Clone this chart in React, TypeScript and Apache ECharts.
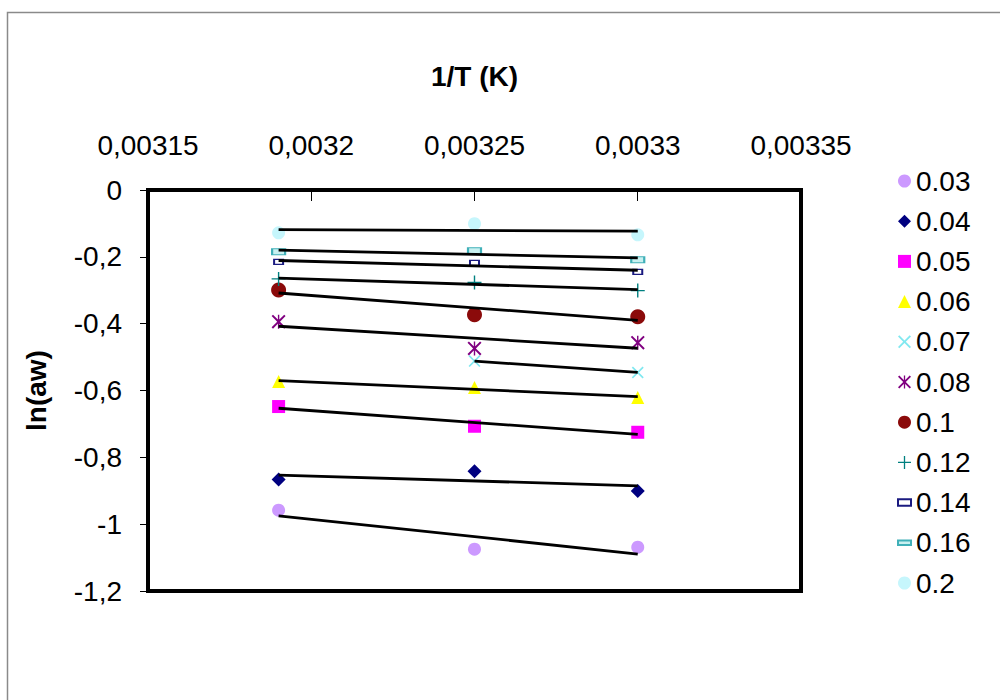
import React, { useEffect, useRef } from "react";
import * as echarts from "echarts";

// 1/T values (x) and tick settings
const xValues = [0.00319, 0.00325, 0.0033];
const xMin = 0.00315;
const xMax = 0.00335;
const xStep = 0.00005;
const yMin = -1.2;
const yMax = 0;
const yStep = 0.2;

const seriesNames = ["0.03", "0.04", "0.05", "0.06", "0.07", "0.08", "0.1", "0.12", "0.14", "0.16", "0.2"];

// ln(aw) values per series, ordered as xValues
const s003 = [-0.958, -1.075, -1.069];
const s004 = [-0.866, -0.842, -0.901];
const s005 = [-0.648, -0.707, -0.725];
const s006 = [-0.573, -0.591, -0.621];
const s007 = [null, -0.512, -0.546];
const s008 = [-0.394, -0.474, -0.457];
const s010 = [-0.299, -0.373, -0.379];
const s012 = [-0.266, -0.277, -0.301];
const s014 = [-0.215, -0.218, -0.245];
const s016 = [-0.185, -0.182, -0.209];
const s020 = [-0.128, -0.101, -0.134];

const seriesValues = [s003, s004, s005, s006, s007, s008, s010, s012, s014, s016, s020];

const FONT = '"Liberation Sans", Arial, sans-serif';

const X_PATH = "path://M0,1L1,0L5,4L9,0L10,1L6,5L10,9L9,10L5,6L1,10L0,9L4,5Z";
const AST_PATH =
  "path://M0,1L1,0L5,4L9,0L10,1L6,5L10,9L9,10L5,6L1,10L0,9L4,5Z M4.5,0L5.5,0L5.5,10L4.5,10Z";
const PLUS_PATH =
  "path://M4.5,0L5.5,0L5.5,4.5L10,4.5L10,5.5L5.5,5.5L5.5,10L4.5,10L4.5,5.5L0,5.5L0,4.5L4.5,4.5Z";
const THIN_RECT = "path://M0,0L10,0L10,5L0,5Z";
const WIDE_RECT = "path://M0,0L14,0L14,5L0,5Z";

const markerStyles: any[] = [
  { symbol: "circle", size: 13, color: "#CC99FF" },
  { symbol: "diamond", size: 14, color: "#000080" },
  { symbol: "rect", size: 13, color: "#FF00FF" },
  { symbol: "triangle", size: 13, color: "#FFFF00" },
  { symbol: X_PATH, size: 12, color: "#80E8F0" },
  { symbol: AST_PATH, size: 14, color: "#800080" },
  { symbol: "circle", size: 15, color: "#8B0A0A" },
  { symbol: PLUS_PATH, size: 14, color: "#008080" },
  { symbol: "rect", size: [9, 5], color: "#ffffff", border: "#1a1a80", icon: THIN_RECT },
  { symbol: "rect", size: [13, 6], color: "#c8f0f0", border: "#40B0B8", icon: WIDE_RECT },
  { symbol: "circle", size: 13, color: "#C6F6FC" },
];

function trend(xs: number[], ys: (number | null)[]) {
  const pts: [number, number][] = [];
  xs.forEach((x, i) => {
    const y = ys[i];
    if (y !== null && y !== undefined) pts.push([x, y]);
  });
  const n = pts.length;
  const mx = pts.reduce((a, p) => a + p[0], 0) / n;
  const my = pts.reduce((a, p) => a + p[1], 0) / n;
  let sxy = 0;
  let sxx = 0;
  pts.forEach((p) => {
    sxy += (p[0] - mx) * (p[1] - my);
    sxx += (p[0] - mx) * (p[0] - mx);
  });
  const b = sxx === 0 ? 0 : sxy / sxx;
  const a = my - b * mx;
  const x0 = pts[0][0];
  const x1 = pts[n - 1][0];
  return [
    [x0, a + b * x0],
    [x1, a + b * x1],
  ];
}

export default function App() {
  const ref = useRef<HTMLDivElement>(null);
  useEffect(() => {
    const chart = echarts.init(ref.current as HTMLDivElement, null, { renderer: "svg" });

    const scatterSeries = seriesNames.map((name, i) => {
      const st = markerStyles[i];
      return {
        name,
        type: "scatter",
        symbol: st.symbol,
        symbolSize: st.size,
        itemStyle: {
          color: st.color,
          borderColor: st.border || st.color,
          borderWidth: st.border ? 1.5 : 0,
          opacity: 1,
        },
        data: xValues
          .map((x, j) => [x, seriesValues[i][j]])
          .filter((p) => p[1] !== null),
        z: 2,
      };
    });

    const lineSeries = seriesNames.map((name, i) => ({
      name: "trend " + name,
      type: "line",
      symbol: "none",
      lineStyle: { color: "#000", width: 2.8 },
      data: trend(xValues, seriesValues[i]),
      z: 3,
      silent: true,
    }));

    const option: any = {
      animation: false,
      backgroundColor: "#ffffff",
      textStyle: { fontFamily: FONT },
      graphic: [
        {
          type: "rect",
          left: 5,
          top: 10,
          shape: { width: 1100, height: 800 },
          style: { fill: "none", stroke: "#8a8a8a", lineWidth: 1.5 },
          silent: true,
        },
      ],
      grid: {
        left: 148,
        top: 190,
        width: 653,
        height: 401,
        show: true,
        borderColor: "#000",
        borderWidth: 4,
        backgroundColor: "#fff",
      },
      xAxis: {
        type: "value",
        position: "top",
        min: xMin,
        max: xMax,
        interval: xStep,
        name: "1/T (K)",
        nameLocation: "middle",
        nameGap: 100,
        nameTextStyle: { fontFamily: FONT, fontSize: 28, fontWeight: "bold", color: "#000" },
        axisLine: { show: true, lineStyle: { color: "#000", width: 4 } },
        axisTick: { show: true, inside: true, length: 11, lineStyle: { color: "#000", width: 1 } },
        splitLine: { show: false },
        axisLabel: {
          margin: 31,
          fontFamily: FONT,
          fontSize: 28,
          color: "#000",
          formatter: (v: number) => String(parseFloat(v.toFixed(6))).replace(".", ","),
        },
      },
      yAxis: {
        type: "value",
        min: yMin,
        max: yMax,
        interval: yStep,
        name: "ln(aw)",
        nameLocation: "middle",
        nameGap: 98,
        nameTextStyle: { fontFamily: FONT, fontSize: 28, fontWeight: "bold", color: "#000" },
        axisLine: { show: true, lineStyle: { color: "#000", width: 4 } },
        axisTick: { show: true, inside: false, length: 8, lineStyle: { color: "#000", width: 1 } },
        splitLine: { show: false },
        axisLabel: {
          margin: 26,
          fontFamily: FONT,
          fontSize: 28,
          color: "#000",
          formatter: (v: number) => String(parseFloat(v.toFixed(2))).replace(".", ","),
        },
      },
      legend: {
        orient: "vertical",
        left: 892,
        top: 162,
        itemWidth: 13,
        itemHeight: 13,
        itemGap: 12.2,
        textStyle: { fontFamily: FONT, fontSize: 28, lineHeight: 28, color: "#000" },
        data: seriesNames.map((name, i) =>
          markerStyles[i].icon ? { name, icon: markerStyles[i].icon } : { name }
        ),
      },
      series: [...scatterSeries, ...lineSeries],
    };

    chart.setOption(option);
    return () => chart.dispose();
  }, []);

  return (
    <div
      ref={ref}
      style={{ position: "fixed", left: 0, top: 0, width: 1000, height: 700, background: "#fff" }}
    />
  );
}
